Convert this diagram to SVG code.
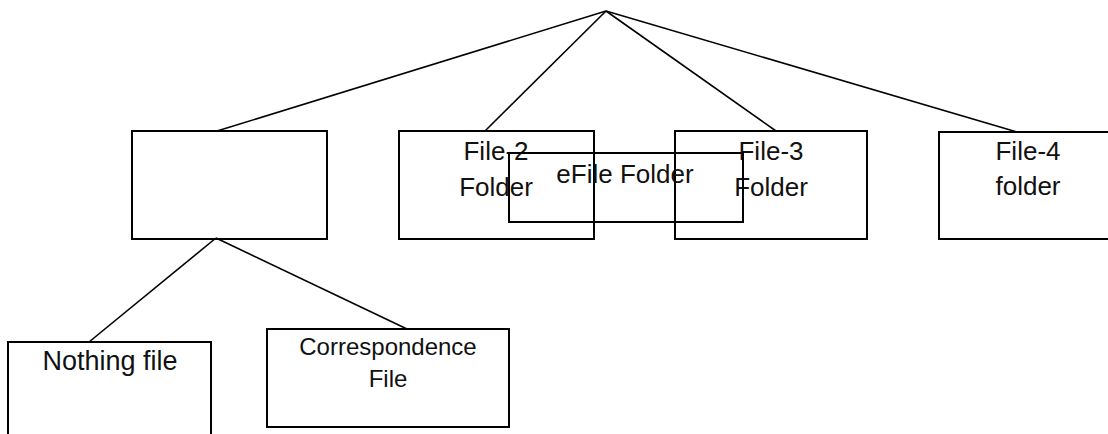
<svg xmlns="http://www.w3.org/2000/svg" width="1108" height="434" viewBox="0 0 1108 434">
  <style>
    .box { fill: none; stroke: #000; stroke-width: 2; }
    .conn { fill: none; stroke: #000; stroke-width: 1.6; }
    .lbl { font-family: "Liberation Sans", Arial, sans-serif; font-size: 26px; fill: #111; text-anchor: middle; }
    .sm { font-size: 24px; }
  </style>
  <rect width="1108" height="434" fill="#fff"/>
  <g id="connectors">
    <line class="conn" x1="606" y1="11" x2="217" y2="131"/>
    <line class="conn" x1="606" y1="11" x2="485" y2="131"/>
    <line class="conn" x1="606" y1="11" x2="776" y2="131"/>
    <line class="conn" x1="606" y1="11" x2="1017" y2="132"/>
    <line class="conn" x1="216" y1="238" x2="89" y2="342"/>
    <line class="conn" x1="216" y1="238" x2="407" y2="329"/>
  </g>
  <g id="node-root-child">
    <rect class="box" x="132" y="131" width="195" height="108"/>
  </g>
  <g id="node-file2">
    <rect class="box" x="399" y="131" width="195" height="108"/>
    <text class="lbl" x="496" y="160">File-2</text>
    <text class="lbl" x="496" y="196">Folder</text>
  </g>
  <g id="node-file3">
    <rect class="box" x="675" y="131" width="192" height="108"/>
    <text class="lbl" x="771" y="160">File-3</text>
    <text class="lbl" x="771" y="196">Folder</text>
  </g>
  <g id="node-efile">
    <rect class="box" x="509" y="153" width="234" height="69"/>
    <text class="lbl" x="625" y="183">eFile Folder</text>
  </g>
  <g id="node-file4">
    <rect class="box" x="939" y="132" width="180" height="107"/>
    <text class="lbl" x="1028" y="160">File-4</text>
    <text class="lbl" x="1028" y="195">folder</text>
  </g>
  <g id="node-nothing">
    <rect class="box" x="8" y="342" width="203" height="110"/>
    <text class="lbl" x="110" y="370" style="font-size:27px">Nothing file</text>
  </g>
  <g id="node-correspondence">
    <rect class="box" x="267" y="329" width="242" height="98"/>
    <text class="lbl sm" x="388" y="355">Correspondence</text>
    <text class="lbl sm" x="388" y="387">File</text>
  </g>
</svg>
